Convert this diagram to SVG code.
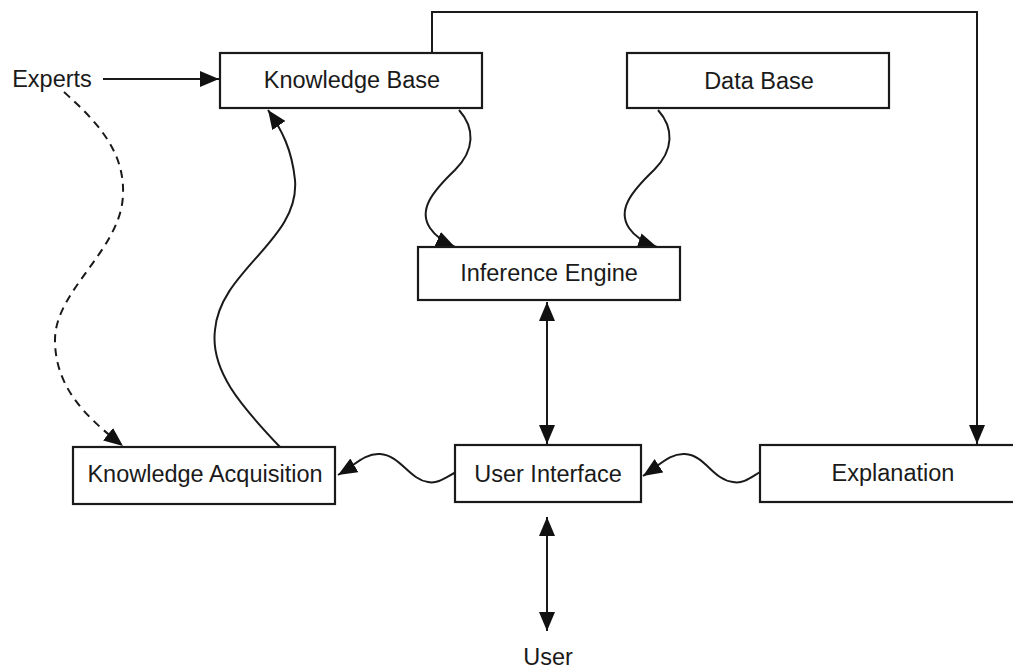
<svg xmlns="http://www.w3.org/2000/svg" width="1013" height="668" viewBox="0 0 1013 668">
<style>
.box{fill:#fff;stroke:#1a1a1a;stroke-width:2.2}
.lbl{font-family:"Liberation Sans",Arial,sans-serif;font-size:23.5px;fill:#1a1a1a;text-anchor:middle}
.ln{fill:none;stroke:#1a1a1a;stroke-width:2}
.dash{stroke-dasharray:8 6}
</style>
<defs>
<marker id="ah" markerUnits="userSpaceOnUse" markerWidth="20" markerHeight="17" refX="19" refY="8" orient="auto-start-reverse">
<path d="M0,0 L19,8 L0,16 z" fill="#111"/>
</marker>
</defs>
<rect width="1013" height="668" fill="#fff"/>
<g id="connectors">
<path class="ln" d="M103,79 L219,79" marker-end="url(#ah)"/>
<path class="ln" d="M432,53 L432,12 L977,12 L977,444" marker-end="url(#ah)"/>
<path class="ln" d="M459,110 C475,128 475,150 455,170 C432,192 418,210 430,228 C436,237 446,243 455,247" marker-end="url(#ah)"/>
<path class="ln" d="M658,110 C674,128 674,150 654,170 C631,192 617,210 629,228 C635,237 645,243 657,247" marker-end="url(#ah)"/>
<path class="ln" d="M280,447 C240,405 210,370 215,330 C220,270 300,240 295,180 C292,150 282,130 268,110" marker-end="url(#ah)"/>
<path class="ln dash" d="M64,92 C95,120 125,150 123,195 C121,250 55,290 55,340 C55,390 90,420 123,446" marker-end="url(#ah)"/>
<path class="ln" d="M547,302 L547,444" marker-start="url(#ah)" marker-end="url(#ah)"/>
<path class="ln" d="M547,517 L547,631" marker-start="url(#ah)" marker-end="url(#ah)"/>
<path class="ln" d="M456,472 C445,478 438,484 428,482 C410,480 400,455 380,454 C365,453 355,465 338,475" marker-end="url(#ah)"/>
<path class="ln" d="M760,472 C750,478 743,484 733,482 C713,480 705,455 685,454 C670,453 660,465 643,476" marker-end="url(#ah)"/>
</g>
<g id="experts"><text class="lbl" x="52" y="87">Experts</text></g>
<g id="knowledge-base"><rect class="box" x="220" y="53" width="262" height="55"/><text class="lbl" x="352" y="88">Knowledge Base</text></g>
<g id="data-base"><rect class="box" x="627" y="53" width="262" height="55"/><text class="lbl" x="759" y="89">Data Base</text></g>
<g id="inference-engine"><rect class="box" x="418" y="247" width="262" height="53"/><text class="lbl" x="549" y="281">Inference Engine</text></g>
<g id="knowledge-acquisition"><rect class="box" x="73" y="447" width="262" height="57"/><text class="lbl" x="205" y="482">Knowledge Acquisition</text></g>
<g id="user-interface"><rect class="box" x="455" y="445" width="186" height="57"/><text class="lbl" x="548" y="482">User Interface</text></g>
<g id="explanation"><rect class="box" x="760" y="445" width="260" height="57"/><text class="lbl" x="893" y="481">Explanation</text></g>
<g id="user"><text class="lbl" x="548" y="665">User</text></g>
</svg>
